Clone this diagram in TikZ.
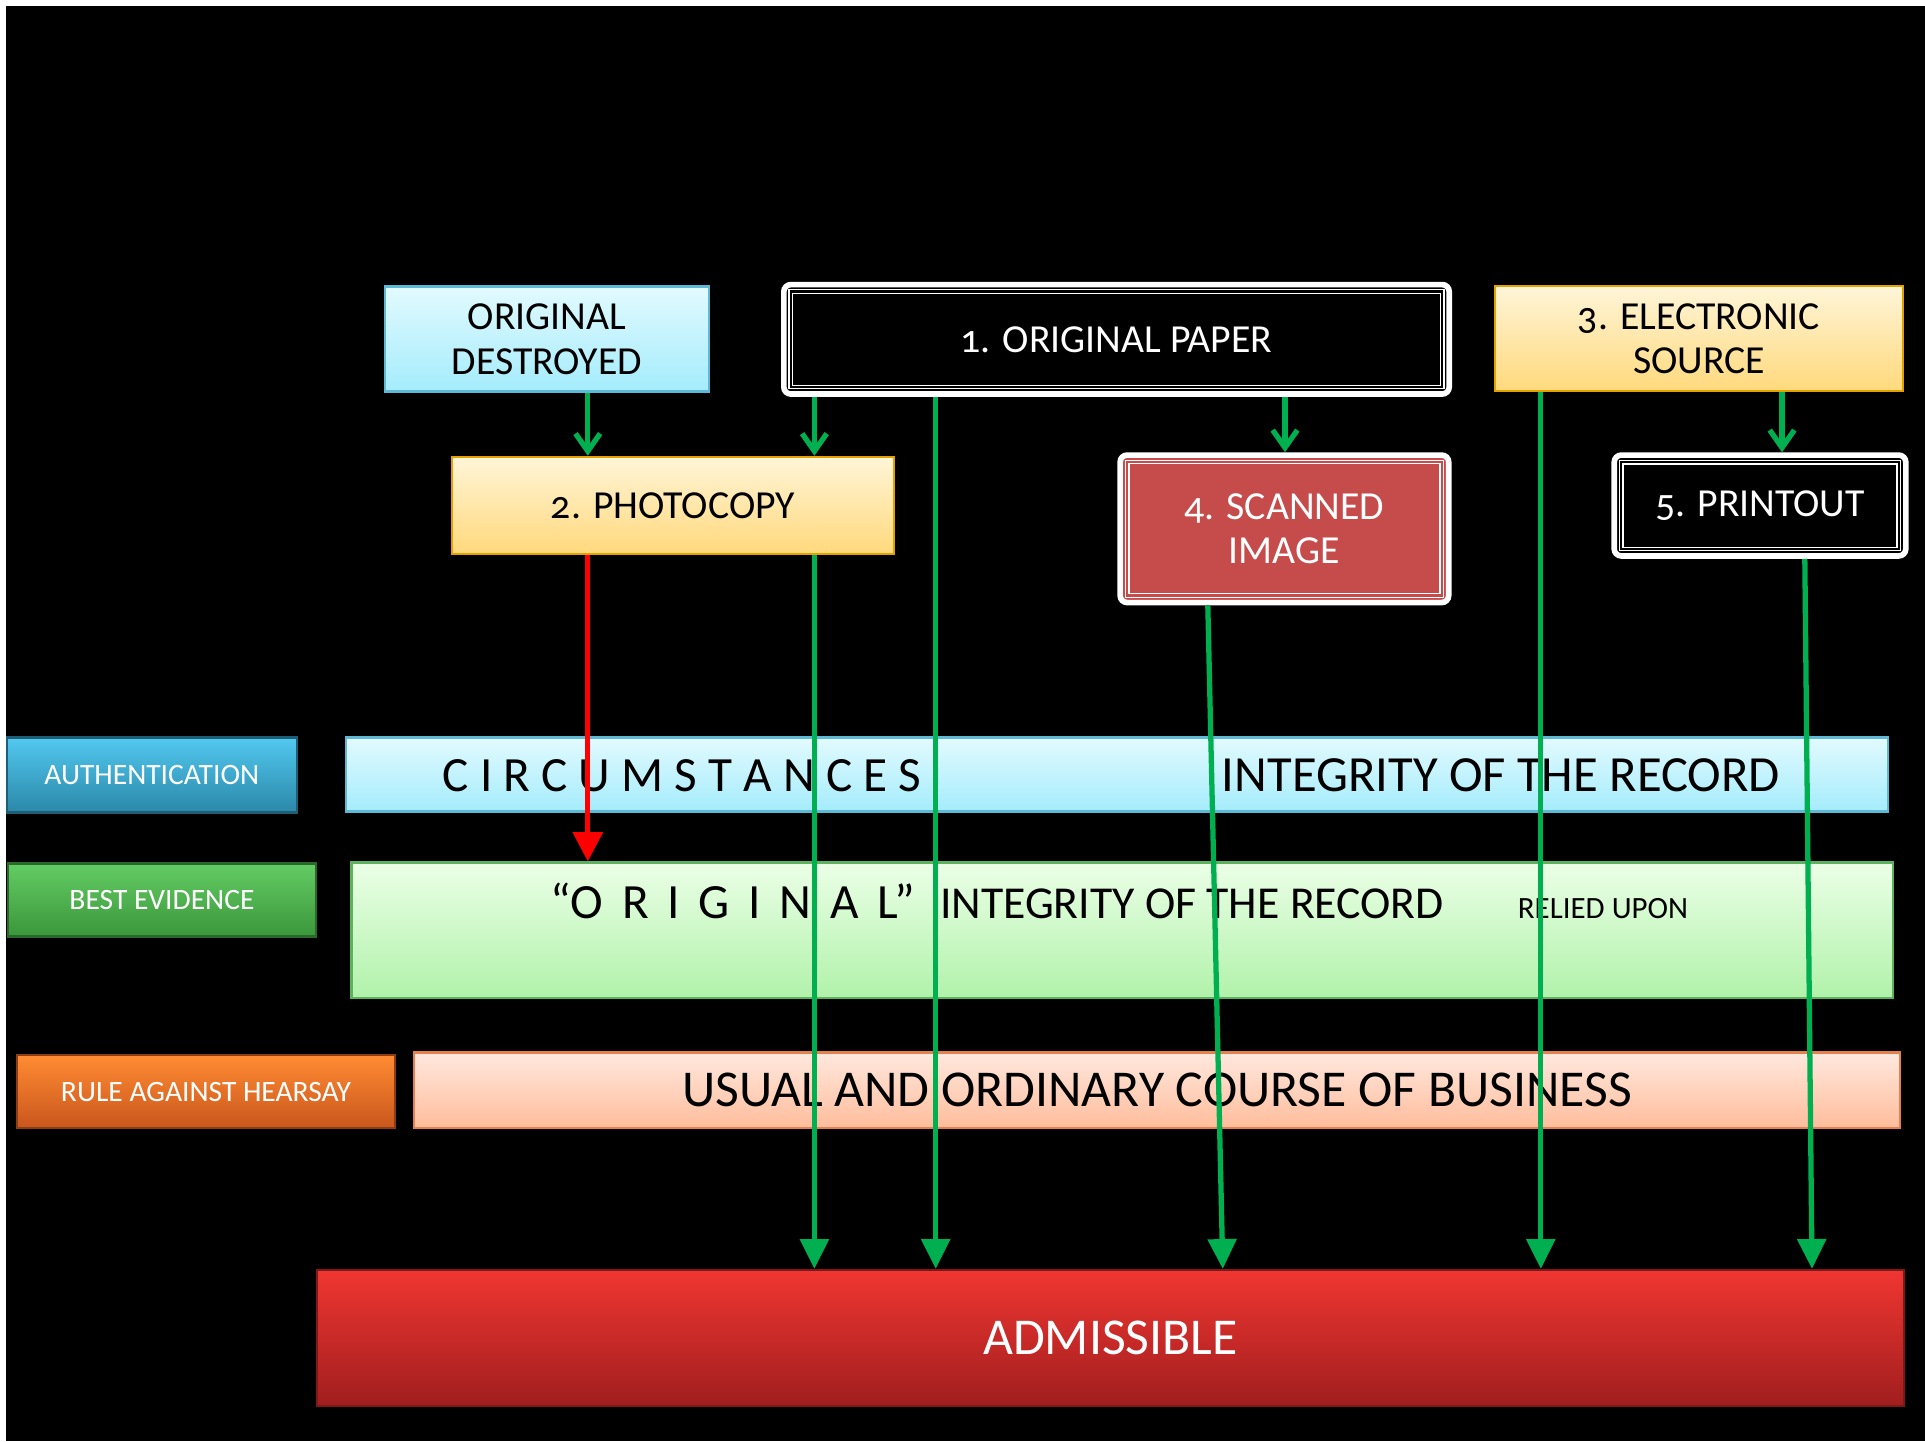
\documentclass[tikz,border=0pt]{standalone}
\usepackage{fontspec}
\setmainfont{Carlito}[Numbers=OldStyle]
\usepackage{tikz}
\usetikzlibrary{arrows.meta,positioning}

\definecolor{cyantop}{HTML}{E2FAFF}
\definecolor{cyanbot}{HTML}{A4ECFC}
\definecolor{cyanedge}{HTML}{5EBAD4}
\definecolor{yelltop}{HTML}{FFF5D8}
\definecolor{yellbot}{HTML}{FFD97C}
\definecolor{yelledge}{HTML}{E5A100}
\definecolor{scanred}{HTML}{C64B4B}
\definecolor{mintop}{HTML}{EBFFE6}
\definecolor{minbot}{HTML}{B1F2AB}
\definecolor{minedge}{HTML}{5DB35D}
\definecolor{peachtop}{HTML}{FFE8DE}
\definecolor{peachbot}{HTML}{FFBD9C}
\definecolor{peachedge}{HTML}{E5814F}
\definecolor{authtop}{HTML}{52C8F0}
\definecolor{authbot}{HTML}{2B88A8}
\definecolor{besttop}{HTML}{63CC63}
\definecolor{bestbot}{HTML}{3B963B}
\definecolor{heartop}{HTML}{FF8B33}
\definecolor{hearbot}{HTML}{C9561C}
\definecolor{admtop}{HTML}{F03631}
\definecolor{admmid}{HTML}{C72626}
\definecolor{admbot}{HTML}{A01E1E}
\definecolor{flowgreen}{HTML}{00B050}

\tikzset{
  plain/.style={rectangle, inner sep=0pt, line width=0.6pt, align=center, font=\fontsize{11.3}{12.7}\selectfont},
  cyanbox/.style={plain, draw=cyanedge, top color=cyantop, bottom color=cyanbot},
  yellowbox/.style={plain, draw=yelledge, top color=yelltop, bottom color=yellbot},
  rimbox/.style={plain, draw=white, line width=1.6pt, rounded corners=2pt, text=white,
    path picture={
      \draw[white, line width=0.35pt, sharp corners] ([shift={(1.5pt,-1.5pt)}]path picture bounding box.north west) rectangle ([shift={(-1.5pt,1.5pt)}]path picture bounding box.south east);
      \draw[white, line width=0.35pt, sharp corners] ([shift={(2.5pt,-2.5pt)}]path picture bounding box.north west) rectangle ([shift={(-2.5pt,2.5pt)}]path picture bounding box.south east);
    }},
  tag/.style={rectangle, inner sep=0pt, line width=0.6pt, text=white, font=\fontsize{8.4}{10}\selectfont},
  bar/.style={rectangle, inner sep=0pt, line width=0.6pt},
  big/.style={font=\fontsize{14}{17}\selectfont},
  bigger/.style={font=\fontsize{14.7}{17}\selectfont},
  flow/.style={draw=flowgreen, line width=1.5pt, -{Straight Barb[length=5pt,width=7pt]}},
  longflow/.style={draw=flowgreen, line width=1.5pt, -{Triangle[length=8.5pt,width=8pt]}},
  redflow/.style={draw=red, line width=1.5pt, -{Triangle[length=8.3pt,width=8.3pt]}}
}

\begin{document}
\begin{tikzpicture}[x=0.01cm,y=-0.01cm]
\fill[white] (0,0) rectangle (1925,1441);
\fill[black] (6,6) rectangle (1925,1441);
\useasboundingbox (0,0) rectangle (1925,1441);

% documents
\node[cyanbox, minimum width=3.24cm, minimum height=1.05cm] (destroyed) at (547,339) {ORIGINAL\\DESTROYED};
\node[rimbox, fill=black, minimum width=6.65cm, minimum height=1.094cm] (paper) at (1116.5,339.3) {1. ORIGINAL PAPER};
\node[yellowbox, minimum width=4.07cm, minimum height=1.05cm] (electronic) at (1699,338.7) {3. ELECTRONIC\\SOURCE};
\node[yellowbox, minimum width=4.42cm, minimum height=0.97cm] (photocopy) at (673,505.3) {2. PHOTOCOPY};
\node[rimbox, fill=scanred, minimum width=3.284cm, minimum height=1.474cm] (scanned) at (1284.4,528.8) {4. SCANNED\\IMAGE};
\node[rimbox, fill=black, minimum width=2.914cm, minimum height=1.008cm] (printout) at (1760,505.5) {5. PRINTOUT};

% rules
\node[tag, top color=authtop, bottom color=authbot, draw=authbot!70!black, minimum width=2.90cm, minimum height=0.75cm] (authtag) at (151.8,775) {AUTHENTICATION};
\node[tag, top color=besttop, bottom color=bestbot, draw=bestbot!70!black, minimum width=3.08cm, minimum height=0.73cm] (besttag) at (162,900) {BEST EVIDENCE};
\node[tag, top color=heartop, bottom color=hearbot, draw=hearbot!70!black, minimum width=3.77cm, minimum height=0.73cm] (heartag) at (206,1091.8) {RULE AGAINST HEARSAY};

\node[bar, draw=cyanedge, top color=cyantop, bottom color=cyanbot, minimum width=15.41cm, minimum height=0.74cm] (authbar) at (1117,774.5) {};
\node[bar, draw=minedge, top color=mintop, bottom color=minbot, minimum width=15.41cm, minimum height=1.35cm] (bestbar) at (1122.4,930) {};
\node[bar, bigger, draw=peachedge, top color=peachtop, bottom color=peachbot, minimum width=14.85cm, minimum height=0.75cm] (hearbar) at (1157,1090) {USUAL AND ORDINARY COURSE OF BUSINESS};
\node[bar, bigger, text=white, draw=admbot!80!black, top color=admtop, middle color=admmid, bottom color=admbot, minimum width=15.86cm, minimum height=1.36cm] (adm) at (1110.4,1338) {ADMISSIBLE};

\node[big, anchor=base] (circ) at (682,791) {C I R C U M S T A N C E S};
\node[font=\fontsize{14.4}{17}\selectfont, anchor=base] (integA) at (1501,791) {INTEGRITY OF THE RECORD};
\node[big, anchor=base] (orig) at (733,918) {\spaceskip=0.38em “O R I G I N A L”};
\node[font=\fontsize{13}{15}\selectfont, anchor=base] (integB) at (1192,918) {INTEGRITY OF THE RECORD};
\node[font=\fontsize{8.8}{10}\selectfont, anchor=base] (relied) at (1603,918) {RELIED UPON};

% columns of the connectors
\coordinate (colA) at (587.8,0);
\coordinate (colB) at (814.4,0);
\coordinate (colC) at (935.7,0);
\coordinate (colD) at (1285,0);
\coordinate (colE) at (1540.8,0);
\coordinate (colF) at (1782,0);
\coordinate (colG) at (1207.8,0);
\coordinate (colH) at (1222.8,0);
\coordinate (colI) at (1804.8,0);
\coordinate (colJ) at (1812,0);

\draw[flow] (destroyed.south -| colA) -- (photocopy.north -| colA);
\draw[flow] (paper.south -| colB) -- (photocopy.north -| colB);
\draw[flow] (paper.south -| colD) -- (scanned.north -| colD);
\draw[flow] (electronic.south -| colF) -- (printout.north -| colF);
\draw[redflow] (photocopy.south -| colA) -- (bestbar.north -| colA);
\draw[longflow] (photocopy.south -| colB) -- (adm.north -| colB);
\draw[longflow] (paper.south -| colC) -- (adm.north -| colC);
\draw[longflow] (scanned.south -| colG) -- (adm.north -| colH);
\draw[longflow] (electronic.south -| colE) -- (adm.north -| colE);
\draw[longflow] (printout.south -| colI) -- (adm.north -| colJ);
\end{tikzpicture}
\end{document}
